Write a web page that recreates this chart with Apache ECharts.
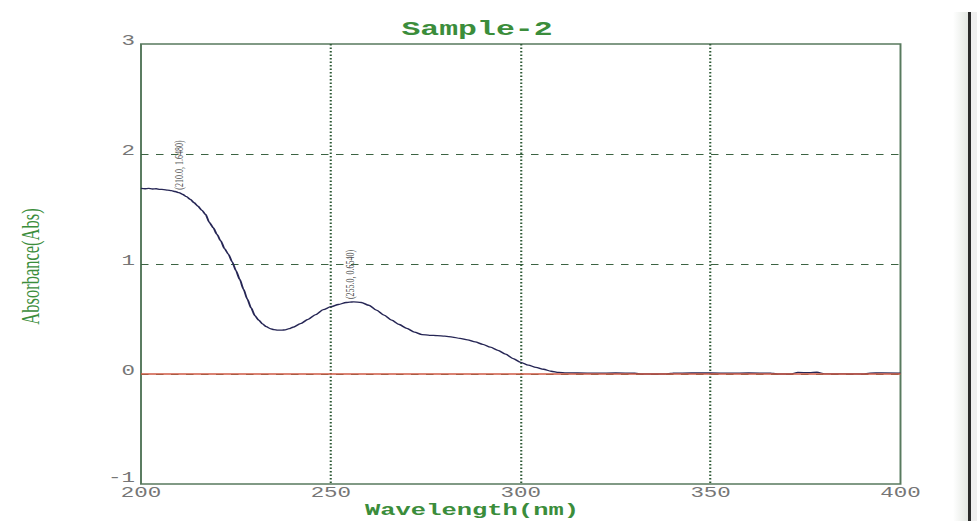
<!DOCTYPE html>
<html>
<head>
<meta charset="utf-8">
<title>Sample-2</title>
<script src="https://cdn.jsdelivr.net/npm/echarts@6/dist/echarts.min.js"></script>
<style>
  html, body { margin: 0; padding: 0; background: #ffffff; overflow: hidden; width: 977px; height: 521px; scrollbar-width: none; }
  ::-webkit-scrollbar { width: 0; height: 0; display: none; }
  #wrap { position: fixed; left: 0; top: 0; width: 977px; height: 521px; overflow: hidden; background: #ffffff; }
  /* the instrument export is horizontally stretched, so the chart is laid out
     narrow and widened 1.5x with an SVG renderer to stay crisp */
  #chart { position: absolute; left: 0; top: 0; width: 651.333px; height: 521px; transform: scaleX(1.5); transform-origin: 0 0; }
  /* window frame at the right edge of the exported screen */
  .pane { position: absolute; top: 12px; height: 509px; z-index: 5; }
  #paneShade { left: 953px; width: 15px; background: linear-gradient(to right, #ffffff, #e4e8e3); }
  #paneEdge { left: 968px; width: 3px; background: #2a2a2a; }
  #paneRight { left: 971px; width: 6px; background: #efefef; }
</style>
</head>
<body>
<div id="wrap">
  <div id="chart"></div>
  <div class="pane" id="paneShade"></div>
  <div class="pane" id="paneEdge"></div>
  <div class="pane" id="paneRight"></div>
</div>
<script>
// UV-Vis absorption spectrum, Sample-2
const wavelengths = [
  200, 201, 202, 203, 204, 205, 206, 207, 208, 209,
  210, 211, 212, 213, 214, 215, 216, 217, 218, 219,
  220, 221, 222, 223, 224, 225, 226, 227, 228, 229,
  230, 231, 232, 233, 234, 235, 236, 237, 238, 239,
  240, 242, 244, 246, 248, 250, 252, 254, 255, 256,
  258, 260, 262, 264, 266, 268, 270, 272, 274, 276,
  278, 280, 282, 284, 286, 288, 290, 292, 294, 296,
  298, 300, 302, 304, 306, 308, 310, 312, 315, 320,
  325, 330, 332, 338, 340, 345, 350, 355, 360, 366,
  368, 371, 373, 376, 378, 380, 390, 392, 395, 400
];
const absorbance = [
  1.688, 1.684, 1.687, 1.682, 1.684, 1.679, 1.677, 1.672, 1.667, 1.659,
  1.648, 1.632, 1.612, 1.587, 1.557, 1.525, 1.490, 1.450, 1.378, 1.330,
  1.270, 1.210, 1.140, 1.090, 1.020, 0.940, 0.860, 0.770, 0.680, 0.600,
  0.530, 0.490, 0.455, 0.430, 0.413, 0.403, 0.399, 0.398, 0.402, 0.412,
  0.425, 0.458, 0.497, 0.540, 0.585, 0.612, 0.632, 0.650, 0.654, 0.655,
  0.650, 0.625, 0.580, 0.535, 0.490, 0.450, 0.415, 0.380, 0.358, 0.352,
  0.349, 0.344, 0.336, 0.323, 0.310, 0.292, 0.270, 0.245, 0.215, 0.180,
  0.140, 0.105, 0.080, 0.060, 0.043, 0.025, 0.014, 0.010, 0.009, 0.008,
  0.009, 0.007, 0.000, 0.000, 0.008, 0.009, 0.009, 0.008, 0.009, 0.008,
  0.000, 0.000, 0.014, 0.012, 0.016, 0.002, 0.000, 0.008, 0.010, 0.008
];
// annotated peaks (wavelength, absorbance)
const peakWavelengths = [210, 255];
const peakValues = peakWavelengths.map(w => absorbance[wavelengths.indexOf(w)]);
// axis ticks
const xTickLabels = [200, 250, 300, 350, 400];
const yTickLabels = [-1, 0, 1, 2, 3];
// reference baseline at zero absorbance
const baselineX = [200, 400];
const baselineY = [0, 0];

const green = '#3b8d3b';
const gridGreen = '#3c6443';
const tickGray = '#767676';
const tickFont = { fontFamily: 'Liberation Mono', fontSize: 15, color: tickGray };
const yMin = yTickLabels[0];

const chart = echarts.init(document.getElementById('chart'), null, { renderer: 'svg' });

chart.setOption({
  backgroundColor: 'transparent',
  animation: false,
  title: {
    text: 'Sample-2',
    left: 313,
    top: 14,
    textAlign: 'center',
    textStyle: { fontFamily: 'Liberation Mono', fontWeight: 'bold', fontSize: 21, color: green }
  },
  grid: {
    left: 94, right: 50.67, top: 44, bottom: 37,
    outerBoundsMode: 'none',
    containLabel: false,
    show: true, borderColor: '#587a5e', borderWidth: 1.3, backgroundColor: 'transparent'
  },
  xAxis: {
    type: 'value',
    min: xTickLabels[0],
    max: xTickLabels[xTickLabels.length - 1],
    interval: xTickLabels[1] - xTickLabels[0],
    name: 'Wavelength(nm)',
    nameLocation: 'middle',
    nameGap: 20,
    nameMoveOverlap: false,
    nameTextStyle: {
      fontFamily: 'Liberation Mono', fontWeight: 'bold', fontSize: 17, color: green,
      lineHeight: 14, padding: [0, 65, 0, 0]
    },
    axisLine: { show: false },
    axisTick: { show: false },
    axisLabel: Object.assign({ margin: 3, lineHeight: 12 }, tickFont),
    splitLine: {
      show: true, showMinLine: false, showMaxLine: false,
      lineStyle: { color: '#2e5a36', width: 1.4, type: [1.5, 2] }
    }
  },
  yAxis: {
    type: 'value',
    min: yTickLabels[0],
    max: yTickLabels[yTickLabels.length - 1],
    interval: yTickLabels[1] - yTickLabels[0],
    name: 'Absorbance(Abs)',
    nameLocation: 'middle',
    nameRotate: 90,
    nameGap: 65,
    nameMoveOverlap: false,
    nameTextStyle: { fontFamily: 'Liberation Serif', fontSize: 16.5, color: green, padding: [0, 5, 0, 0] },
    axisLine: { show: false },
    axisTick: { show: false },
    axisLabel: {
      margin: 4,
      verticalAlign: 'bottom',
      formatter: v => (v === yMin ? '{lo|' + v + '}' : '{n|' + v + '}'),
      rich: {
        n: Object.assign({ lineHeight: 6 }, tickFont),
        lo: Object.assign({ lineHeight: 6, padding: [0, 0, 6, 0] }, tickFont)
      }
    },
    splitLine: {
      show: true, showMinLine: false, showMaxLine: false,
      lineStyle: { color: gridGreen, width: 1, type: [5, 5] }
    }
  },
  series: [
    {
      name: 'Sample-2',
      type: 'line',
      z: 2,
      data: wavelengths.map((w, i) => [w, absorbance[i]]),
      showSymbol: false,
      smooth: 0.25,
      smoothMonotone: 'x',
      lineStyle: { color: '#262655', width: 1.3 }
    },
    {
      name: 'baseline',
      type: 'line',
      z: 3,
      data: baselineX.map((w, i) => [w, baselineY[i]]),
      showSymbol: false,
      lineStyle: { color: '#cf5a45', width: 1.3 }
    },
    {
      name: 'peaks',
      type: 'scatter',
      z: 4,
      symbolSize: 0,
      data: peakWavelengths.map((w, i) => [w, peakValues[i]]),
      label: {
        show: true,
        position: 'top',
        distance: 3,
        rotate: 90,
        align: 'left',
        verticalAlign: 'middle',
        fontFamily: 'Liberation Serif',
        fontSize: 8,
        color: '#222222',
        formatter: p => '(' + p.value[0].toFixed(1) + ', ' + p.value[1].toFixed(4) + ')'
      }
    }
  ]
});
</script>
</body>
</html>
